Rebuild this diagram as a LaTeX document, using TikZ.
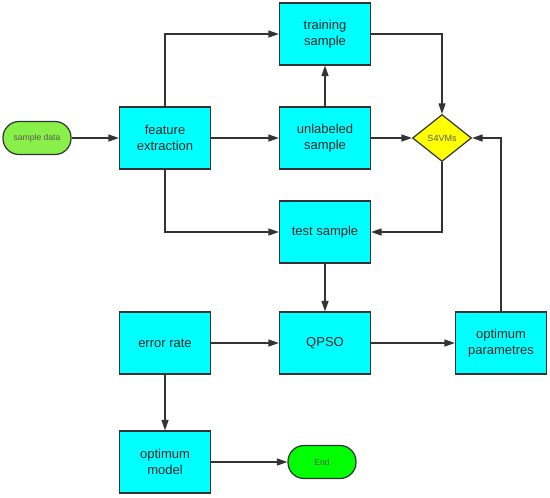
\documentclass[tikz,border=0pt]{standalone}
\usepackage{fontspec}
\setmainfont{Liberation Sans}
\usetikzlibrary{shapes.geometric,arrows.meta}
\definecolor{datagreen}{HTML}{88F048}
\definecolor{endgreen}{HTML}{00FF00}
\definecolor{boxcyan}{HTML}{00FFFF}
\definecolor{svmyellow}{HTML}{FFFF00}
\definecolor{linegray}{HTML}{333333}
\begin{document}
\begin{tikzpicture}[x=1pt,y=-1pt,
        box/.style={draw=linegray,line width=1.2pt,fill=boxcyan,minimum width=91pt,minimum height=62pt,
            align=center,inner sep=2pt,text=black!85,font=\fontsize{13}{16.5}\selectfont},
        term/.style={draw=linegray,line width=1.2pt,rounded corners=16pt,minimum width=68pt,minimum height=33pt,
            text=black!65,font=\fontsize{8.6}{10}\selectfont},
        choice/.style={diamond,draw=linegray,line width=1.2pt,fill=svmyellow,minimum width=59pt,minimum height=47pt,
            inner sep=1pt,text=black!65,font=\fontsize{9}{10}\selectfont},
        arr/.style={draw=linegray,line width=1.3pt,-{Triangle[length=10.5pt,width=7pt]}}]
        \useasboundingbox (0,0) rectangle (550,498);
        %terminals
        \node[term,fill=datagreen] (data) at (37,138) {sample data};
        \node[term,fill=endgreen] (end) at (322,462) {End};
        %boxes
        \node[box] (feat) at (165,138) {feature\\extraction};
        \node[box] (train) at (325,34) {training\\sample};
        \node[box] (unlab) at (325,138) {unlabeled\\sample};
        \node[box] (test) at (325,232) {test sample};
        \node[box] (err) at (165,343) {error rate};
        \node[box] (qpso) at (325,343) {QPSO};
        \node[box] (param) at (501,343) {optimum\\parametres};
        \node[box] (model) at (165,462) {optimum\\model};
        %decision
        \node[choice] (svm) at (442,138) {S4VMs};
        %arrows
        \draw[arr] (data) -- (feat);
        \draw[arr] (feat) -- (unlab);
        \draw[arr] (feat.north) |- (train);
        \draw[arr] (feat.south) |- (test);
        \draw[arr] (unlab) -- (train);
        \draw[arr] (train) -| (svm);
        \draw[arr] (unlab) -- (svm);
        \draw[arr] (svm) |- (test);
        \draw[arr] (test) -- (qpso);
        \draw[arr] (param) |- (svm);
        \draw[arr] (qpso) -- (param);
        \draw[arr] (err) -- (qpso);
        \draw[arr] (err) -- (model);
        \draw[arr] (model) -- (end);
\end{tikzpicture}
\end{document}
